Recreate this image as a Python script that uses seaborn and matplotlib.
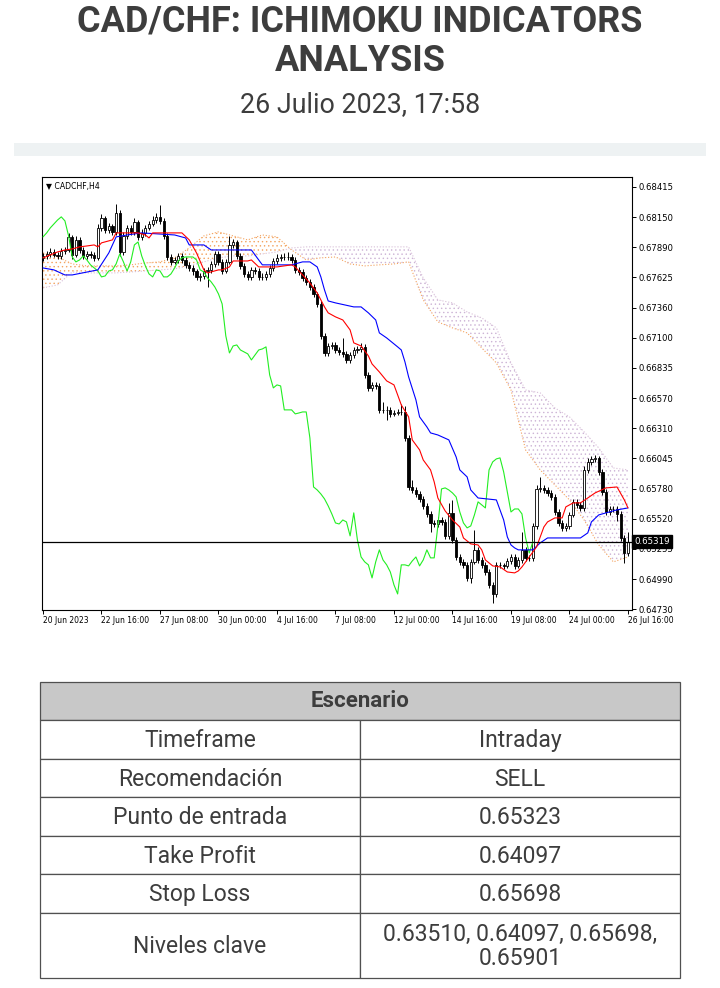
import numpy as np
import seaborn as sns
import matplotlib.pyplot as plt
from matplotlib.patches import Rectangle


# =====================
# chart data (CADCHF, H4 candles)
# =====================
title_lines = ['CAD/CHF: ICHIMOKU INDICATORS', 'ANALYSIS']
subtitle = '26 Julio 2023, 17:58'
symbol_label = '\u25bc CADCHF,H4'

opens = [0.67796, 0.67813, 0.67831, 0.67848, 0.67822, 0.67813, 0.67857, 0.67865, 0.67979, 0.67822,
         0.67953, 0.67865, 0.67813, 0.67831, 0.67822, 0.67796, 0.68058, 0.68145, 0.68040, 0.68075,
         0.68023, 0.68188, 0.67848, 0.67988, 0.68058, 0.68023, 0.68110, 0.67979, 0.68014, 0.68058,
         0.68092, 0.68127, 0.68154, 0.68119, 0.67988, 0.67804, 0.67761, 0.67778, 0.67813, 0.67778,
         0.67735, 0.67708, 0.67682, 0.67630, 0.67638, 0.67682, 0.67691, 0.67743, 0.67831, 0.67761,
         0.67682, 0.67761, 0.67909, 0.67935, 0.67813, 0.67726, 0.67656, 0.67630, 0.67691, 0.67682,
         0.67630, 0.67630, 0.67656, 0.67708, 0.67769, 0.67796, 0.67804, 0.67804, 0.67804, 0.67778,
         0.67691, 0.67673, 0.67621, 0.67586, 0.67542, 0.67481, 0.67394, 0.67115, 0.66966, 0.67027,
         0.67036, 0.66992, 0.66975, 0.66958, 0.66905, 0.66949, 0.66992, 0.67001, 0.67019, 0.66774,
         0.66661, 0.66687, 0.66678, 0.66469, 0.66469, 0.66469, 0.66434, 0.66442, 0.66451, 0.66451,
         0.66224, 0.65796, 0.65770, 0.65735, 0.65692, 0.65631, 0.65561, 0.65482, 0.65473, 0.65508,
         0.65491, 0.65369, 0.65570, 0.65334, 0.65185, 0.65142, 0.65116, 0.65002, 0.65142, 0.65247,
         0.65159, 0.65116, 0.65054, 0.64941, 0.64862, 0.65116, 0.65116, 0.65107, 0.65150, 0.65185,
         0.65107, 0.65159, 0.65247, 0.65177, 0.65177, 0.65456, 0.65779, 0.65788, 0.65770, 0.65744,
         0.65709, 0.65578, 0.65482, 0.65439, 0.65456, 0.65552, 0.65666, 0.65639, 0.65613, 0.65945,
         0.66015, 0.66041, 0.66050, 0.65927, 0.65753, 0.65578, 0.65604, 0.65604, 0.65561, 0.65351,
         0.65220]
highs = [0.67840, 0.67860, 0.67880, 0.67870, 0.67845, 0.67885, 0.67890, 0.68010, 0.68000, 0.67985,
         0.67975, 0.67890, 0.67860, 0.67855, 0.67850, 0.68090, 0.68175, 0.68165, 0.68100, 0.68095,
         0.68265, 0.68210, 0.68020, 0.68085, 0.68080, 0.68140, 0.68130, 0.68045, 0.68085, 0.68120,
         0.68160, 0.68190, 0.68260, 0.68140, 0.68010, 0.67830, 0.67805, 0.67840, 0.67835, 0.67800,
         0.67760, 0.67730, 0.67700, 0.67665, 0.67710, 0.67720, 0.67770, 0.67860, 0.67855, 0.67785,
         0.67790, 0.67990, 0.67965, 0.67955, 0.67835, 0.67750, 0.67680, 0.67720, 0.67715, 0.67705,
         0.67660, 0.67685, 0.67735, 0.67795, 0.67830, 0.67830, 0.67835, 0.67850, 0.67830, 0.67800,
         0.67715, 0.67695, 0.67645, 0.67610, 0.67565, 0.67500, 0.67420, 0.67140, 0.67055, 0.67065,
         0.67060, 0.67020, 0.67100, 0.66985, 0.66975, 0.67020, 0.67030, 0.67050, 0.67045, 0.66800,
         0.66715, 0.66710, 0.66700, 0.66540, 0.66500, 0.66495, 0.66470, 0.66480, 0.66520, 0.66500,
         0.66250, 0.65860, 0.65795, 0.65760, 0.65715, 0.65655, 0.65585, 0.65510, 0.65535, 0.65530,
         0.65515, 0.65660, 0.65680, 0.65360, 0.65210, 0.65170, 0.65140, 0.65170, 0.65420, 0.65275,
         0.65185, 0.65140, 0.65080, 0.64965, 0.65140, 0.65145, 0.65135, 0.65180, 0.65210, 0.65215,
         0.65185, 0.65400, 0.65270, 0.65205, 0.65485, 0.65810, 0.65880, 0.65815, 0.65795, 0.65770,
         0.65735, 0.65605, 0.65510, 0.65485, 0.65580, 0.65695, 0.65690, 0.65665, 0.65975, 0.66045,
         0.66070, 0.66075, 0.66070, 0.65950, 0.65780, 0.65630, 0.65630, 0.65630, 0.65585, 0.65375,
         0.65400]
lows = [0.67770, 0.67790, 0.67805, 0.67800, 0.67790, 0.67790, 0.67830, 0.67845, 0.67790, 0.67800,
        0.67840, 0.67785, 0.67790, 0.67795, 0.67770, 0.67775, 0.68030, 0.68015, 0.68015, 0.67995,
        0.68000, 0.67815, 0.67825, 0.67965, 0.67995, 0.68000, 0.67950, 0.67955, 0.67990, 0.68035,
        0.68070, 0.68100, 0.68095, 0.67960, 0.67780, 0.67735, 0.67740, 0.67755, 0.67750, 0.67710,
        0.67680, 0.67650, 0.67600, 0.67595, 0.67610, 0.67540, 0.67665, 0.67720, 0.67735, 0.67655,
        0.67660, 0.67740, 0.67880, 0.67790, 0.67700, 0.67625, 0.67600, 0.67605, 0.67655, 0.67600,
        0.67600, 0.67605, 0.67630, 0.67685, 0.67745, 0.67770, 0.67775, 0.67780, 0.67750, 0.67665,
        0.67645, 0.67595, 0.67560, 0.67515, 0.67455, 0.67365, 0.67090, 0.66940, 0.66940, 0.67000,
        0.66965, 0.66950, 0.66930, 0.66880, 0.66880, 0.66920, 0.66965, 0.66975, 0.66750, 0.66635,
        0.66635, 0.66650, 0.66440, 0.66440, 0.66380, 0.66405, 0.66415, 0.66420, 0.66420, 0.66195,
        0.65770, 0.65745, 0.65710, 0.65665, 0.65605, 0.65535, 0.65400, 0.65445, 0.65450, 0.65465,
        0.65345, 0.65345, 0.65310, 0.65160, 0.65115, 0.65090, 0.64975, 0.64960, 0.65120, 0.65130,
        0.65090, 0.65025, 0.64910, 0.64780, 0.64835, 0.65085, 0.65080, 0.65085, 0.65125, 0.65080,
        0.65085, 0.65130, 0.65150, 0.65150, 0.65150, 0.65430, 0.65755, 0.65745, 0.65720, 0.65680,
        0.65550, 0.65455, 0.65415, 0.65415, 0.65430, 0.65530, 0.65610, 0.65590, 0.65590, 0.65920,
        0.65990, 0.66015, 0.65900, 0.65725, 0.65550, 0.65555, 0.65580, 0.65500, 0.65325, 0.65130,
        0.65195]
closes = [0.67813, 0.67831, 0.67848, 0.67822, 0.67813, 0.67857, 0.67865, 0.67979, 0.67822, 0.67953,
          0.67865, 0.67813, 0.67831, 0.67822, 0.67796, 0.68058, 0.68145, 0.68040, 0.68075, 0.68023,
          0.68188, 0.67848, 0.67988, 0.68058, 0.68023, 0.68110, 0.67979, 0.68014, 0.68058, 0.68092,
          0.68127, 0.68154, 0.68119, 0.67988, 0.67804, 0.67761, 0.67778, 0.67813, 0.67778, 0.67735,
          0.67708, 0.67682, 0.67630, 0.67638, 0.67682, 0.67691, 0.67743, 0.67831, 0.67761, 0.67682,
          0.67761, 0.67909, 0.67935, 0.67813, 0.67726, 0.67656, 0.67630, 0.67691, 0.67682, 0.67630,
          0.67630, 0.67656, 0.67708, 0.67769, 0.67796, 0.67804, 0.67804, 0.67804, 0.67778, 0.67691,
          0.67673, 0.67621, 0.67586, 0.67542, 0.67481, 0.67394, 0.67115, 0.66966, 0.67027, 0.67036,
          0.66992, 0.66975, 0.66958, 0.66905, 0.66949, 0.66992, 0.67001, 0.67019, 0.66774, 0.66661,
          0.66687, 0.66678, 0.66469, 0.66469, 0.66469, 0.66434, 0.66442, 0.66451, 0.66451, 0.66224,
          0.65796, 0.65770, 0.65735, 0.65692, 0.65631, 0.65561, 0.65482, 0.65473, 0.65508, 0.65491,
          0.65369, 0.65570, 0.65334, 0.65185, 0.65142, 0.65116, 0.65002, 0.65142, 0.65247, 0.65159,
          0.65116, 0.65054, 0.64941, 0.64862, 0.65116, 0.65116, 0.65107, 0.65150, 0.65185, 0.65107,
          0.65159, 0.65247, 0.65177, 0.65177, 0.65456, 0.65779, 0.65788, 0.65770, 0.65744, 0.65709,
          0.65578, 0.65482, 0.65439, 0.65456, 0.65552, 0.65666, 0.65639, 0.65613, 0.65945, 0.66015,
          0.66041, 0.66050, 0.65927, 0.65753, 0.65578, 0.65604, 0.65604, 0.65561, 0.65351, 0.65220,
          0.65319]

# Tenkan-sen (red), vertices: bar index and price
tenkan_bar = [0, 2, 4, 6, 8, 10, 12, 14, 15, 16, 19, 20, 26, 28, 29, 30, 38, 40, 42, 44,
              45, 48, 49, 51, 52, 56, 57, 59, 64, 68, 69, 71, 73, 75, 77, 78, 80, 82, 84, 85,
              87, 89, 90, 92, 94, 96, 97, 98, 100, 101, 103, 104, 106, 107, 108, 110, 112, 114, 115, 117,
              119, 120, 121, 123, 125, 127, 129, 130, 131, 133, 135, 137, 138, 140, 142, 143, 145, 147, 149, 151,
              154, 157, 159, 160]
tenkan_val = [0.67796, 0.67822, 0.67848, 0.67865, 0.67874, 0.67892, 0.67900, 0.67909, 0.67892, 0.67927,
              0.67953, 0.68014, 0.68014, 0.67996, 0.67970, 0.68014, 0.68014, 0.67953, 0.67839, 0.67691,
              0.67665, 0.67691, 0.67691, 0.67717, 0.67769, 0.67769, 0.67778, 0.67717, 0.67717, 0.67735,
              0.67717, 0.67647, 0.67577, 0.67490, 0.67368, 0.67316, 0.67281, 0.67254, 0.67167, 0.67054,
              0.67027, 0.66940, 0.66870, 0.66800, 0.66722, 0.66687, 0.66600, 0.66512, 0.66408, 0.66207,
              0.66120, 0.66032, 0.65945, 0.65840, 0.65700, 0.65587, 0.65508, 0.65447, 0.65351, 0.65299,
              0.65290, 0.65247, 0.65159, 0.65107, 0.65098, 0.65054, 0.65046, 0.65063, 0.65098, 0.65185,
              0.65273, 0.65447, 0.65491, 0.65526, 0.65526, 0.65622, 0.65657, 0.65657, 0.65700, 0.65744,
              0.65788, 0.65796, 0.65683, 0.65613]

# Kijun-sen (blue)
kijun_bar = [0, 3, 6, 8, 15, 18, 20, 23, 27, 36, 39, 40, 44, 46, 57, 59, 60, 68, 71, 73,
             75, 76, 77, 78, 80, 85, 87, 89, 91, 92, 94, 97, 98, 99, 100, 102, 103, 105, 106, 108,
             111, 113, 114, 116, 117, 119, 124, 126, 127, 128, 129, 130, 134, 136, 138, 147, 149, 150, 152, 154,
             157, 160]
kijun_val = [0.67708, 0.67691, 0.67647, 0.67647, 0.67691, 0.67839, 0.67979, 0.67996, 0.68014, 0.67996,
             0.67970, 0.67909, 0.67909, 0.67865, 0.67865, 0.67778, 0.67735, 0.67735, 0.67761, 0.67761,
             0.67717, 0.67630, 0.67516, 0.67420, 0.67403, 0.67368, 0.67368, 0.67316, 0.67254, 0.67141,
             0.67097, 0.67019, 0.66992, 0.66888, 0.66757, 0.66556, 0.66408, 0.66320, 0.66268, 0.66250,
             0.66207, 0.66058, 0.65945, 0.65884, 0.65770, 0.65700, 0.65683, 0.65508, 0.65360, 0.65290,
             0.65264, 0.65247, 0.65247, 0.65308, 0.65351, 0.65351, 0.65395, 0.65491, 0.65552, 0.65570,
             0.65596, 0.65613]

# Senkou spans (cloud), every 4th bar
cloud_bar = [0, 4, 8, 12, 16, 20, 24, 28, 32, 36, 40, 44, 48, 52, 56, 60, 64, 68, 72, 76,
             80, 84, 88, 92, 96, 100, 104, 108, 112, 116, 120, 124, 128, 132, 136, 140, 144, 148, 152, 156,
             160]
span_a = [0.67839, 0.67804, 0.67743, 0.67726, 0.67726, 0.67726, 0.67735, 0.67752, 0.67761, 0.67796,
          0.67883, 0.67988, 0.68023, 0.67988, 0.67953, 0.67996, 0.67979, 0.67865, 0.67778, 0.67796,
          0.67804, 0.67743, 0.67726, 0.67735, 0.67743, 0.67761, 0.67429, 0.67237, 0.67185, 0.67141,
          0.67010, 0.66879, 0.66643, 0.66119, 0.65945, 0.65814, 0.65683, 0.65508, 0.65290, 0.65142,
          0.65185]
span_b = [0.67534, 0.67560, 0.67673, 0.67665, 0.67665, 0.67665, 0.67673, 0.67682, 0.67691, 0.67700,
          0.67726, 0.67761, 0.67796, 0.67813, 0.67813, 0.67831, 0.67848, 0.67883, 0.67892, 0.67892,
          0.67892, 0.67892, 0.67892, 0.67892, 0.67892, 0.67892, 0.67621, 0.67429, 0.67403, 0.67324,
          0.67272, 0.67185, 0.66879, 0.66643, 0.66617, 0.66486, 0.66408, 0.66277, 0.66137, 0.65962,
          0.65945]

chikou_shift = 26
last_price = 0.65319

date_labels = ['20 Jun 2023', '22 Jun 16:00', '27 Jun 08:00', '30 Jun 00:00', '4 Jul 16:00',
               '7 Jul 08:00', '12 Jul 00:00', '14 Jul 16:00', '19 Jul 08:00', '24 Jul 00:00',
               '26 Jul 16:00']
price_ticks = [0.68415, 0.68150, 0.67890, 0.67625, 0.67360, 0.67100, 0.66835, 0.66570,
               0.66310, 0.66045, 0.65780, 0.65520, 0.65255, 0.64990, 0.64730]

table_header = 'Escenario'
table_keys = ['Timeframe', 'Recomendación', 'Punto de entrada', 'Take Profit', 'Stop Loss', 'Niveles clave']
table_values = ['Intraday', 'SELL', '0.65323', '0.64097', '0.65698', '0.63510, 0.64097, 0.65698,\n0.65901']


# =====================
# figure
# =====================
sns.set_theme(style='white')
plt.rcParams['font.family'] = ['Roboto', 'DejaVu Sans']
plt.rcParams['hatch.linewidth'] = 0.5

text_color = '#3d3d3d'
fig = plt.figure(figsize=(7.2, 9.88), dpi=100)

# page overlay in pixel units: title, separator, table
page = fig.add_axes([0, 0, 1, 1])
page.set_xlim(0, 720)
page.set_ylim(988, 0)
page.axis('off')

page.text(360, 21, title_lines[0], ha='center', va='center', fontsize=26, fontweight='bold', color=text_color)
page.text(360, 61, title_lines[1], ha='center', va='center', fontsize=26, fontweight='bold', color=text_color)
page.text(360, 105, subtitle, ha='center', va='center', fontsize=19.3, color=text_color)
page.add_patch(Rectangle((14, 143), 692, 13, facecolor='#eef2f3', edgecolor='none'))

# table
row_edges = [682, 720, 759, 797, 836, 874, 913, 978]
t_left, t_mid, t_right = 40, 360, 680
border = '#505050'
page.add_patch(Rectangle((t_left, row_edges[0]), t_right - t_left, row_edges[1] - row_edges[0],
                         facecolor='#c8c8c8', edgecolor=border, lw=0.9))
page.text((t_left + t_right) / 2, (row_edges[0] + row_edges[1]) / 2, table_header, ha='center', va='center',
          fontsize=16, fontweight='bold', color=text_color)
for i, (key, val) in enumerate(zip(table_keys, table_values)):
    y0, y1 = row_edges[i + 1], row_edges[i + 2]
    page.add_patch(Rectangle((t_left, y0), t_mid - t_left, y1 - y0, facecolor='white', edgecolor=border, lw=0.9))
    page.add_patch(Rectangle((t_mid, y0), t_right - t_mid, y1 - y0, facecolor='white', edgecolor=border, lw=0.9))
    page.text((t_left + t_mid) / 2, (y0 + y1) / 2 + 1, key, ha='center', va='center', fontsize=16.5,
              color=text_color)
    page.text((t_mid + t_right) / 2, (y0 + y1) / 2 + 1, val, ha='center', va='center', fontsize=16.5,
              color=text_color, linespacing=1.1)

# ------------------
# ichimoku chart
# ------------------
ax = fig.add_axes([42 / 720, 1 - 610 / 988, 590 / 720, 433 / 988])
ax.set_facecolor('white')

bars = np.arange(len(closes))
o = np.array(opens)
c = np.array(closes)

# cloud
a = np.array(span_a)
b = np.array(span_b)
ax.fill_between(cloud_bar, a, b, where=a >= b, interpolate=True, facecolor='none',
                edgecolor='#f4a460', hatch='....', linewidth=0, zorder=1)
ax.fill_between(cloud_bar, a, b, where=a < b, interpolate=True, facecolor='none',
                edgecolor='#cdb4d6', hatch='....', linewidth=0, zorder=1)
sns.lineplot(x=cloud_bar, y=span_a, ax=ax, color='#f4a460', lw=0.8, linestyle=':', zorder=2)
sns.lineplot(x=cloud_bar, y=span_b, ax=ax, color='#d8bfd8', lw=0.8, linestyle=':', zorder=2)

# candles
ax.vlines(bars, lows, highs, color='black', lw=0.7, zorder=3)
up = c >= o
ax.bar(bars[up], (c - o)[up], bottom=o[up], width=0.62, color='white', edgecolor='black', lw=0.6, zorder=4)
ax.bar(bars[~up], (o - c)[~up], bottom=c[~up], width=0.62, color='black', edgecolor='black', lw=0.6, zorder=4)

# lines
sns.lineplot(x=bars[:len(closes) - chikou_shift], y=closes[chikou_shift:], ax=ax, color='#22ee22', lw=0.8, zorder=5)
sns.lineplot(x=kijun_bar, y=kijun_val, ax=ax, color='#0000ff', lw=0.8, zorder=6)
sns.lineplot(x=tenkan_bar, y=tenkan_val, ax=ax, color='#ff0000', lw=0.8, zorder=7)

# current price
ax.axhline(last_price, color='black', lw=0.9, zorder=8)
ax.text(1.004, last_price, '%.5f' % last_price, transform=ax.get_yaxis_transform(), ha='left', va='center',
        fontsize=6.2, color='white', family='DejaVu Sans', zorder=10,
        bbox=dict(boxstyle='square,pad=0.25', facecolor='black', edgecolor='black'))

ax.text(0.006, 0.988, symbol_label, transform=ax.transAxes, ha='left', va='top', fontsize=5.6,
        family='DejaVu Sans', color='black')

ax.set_xlim(-0.27, 161.1)
ax.set_ylim(0.64722, 0.68502)
ax.set_xlabel('')
ax.set_ylabel('')

ax.set_xticks(np.arange(0, 161, 16))
ax.set_xticklabels(date_labels, ha='left', fontsize=5.5, family='DejaVu Sans')
ax.set_yticks(price_ticks)
ax.set_yticklabels(['%.5f' % p for p in price_ticks], fontsize=6.1, family='DejaVu Sans')
ax.yaxis.tick_right()
ax.tick_params(axis='x', bottom=True, length=3, width=0.7, pad=1.5, colors='black')
ax.tick_params(axis='y', right=True, left=False, labelright=True, labelleft=False,
               length=3, width=0.7, pad=2, colors='black')
for side in ['left', 'right', 'top', 'bottom']:
    ax.spines[side].set_color('black')
    ax.spines[side].set_linewidth(0.8)
ax.grid(False)

fig.savefig('out.png', dpi=100)
